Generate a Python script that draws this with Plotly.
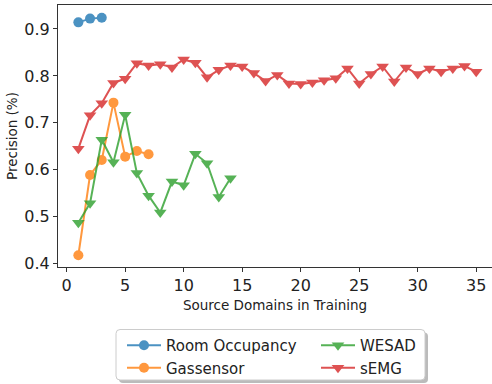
import plotly.graph_objects as go

room_x = [1, 2, 3]
room_y = [0.914, 0.922, 0.924]

gas_x = [1, 2, 3, 4, 5, 6, 7]
gas_y = [0.418, 0.589, 0.621, 0.743, 0.628, 0.640, 0.633]

wesad_x = list(range(1, 15))
wesad_y = [0.487, 0.529, 0.664, 0.616, 0.717, 0.593, 0.545, 0.509, 0.575, 0.567,
           0.634, 0.614, 0.542, 0.582]

semg_x = list(range(1, 36))
semg_y = [0.645, 0.716, 0.742, 0.785, 0.794, 0.827, 0.822, 0.825, 0.818, 0.835,
          0.828, 0.797, 0.813, 0.822, 0.820, 0.806, 0.789, 0.802, 0.784, 0.783,
          0.786, 0.791, 0.795, 0.816, 0.784, 0.804, 0.820, 0.788, 0.818, 0.804,
          0.816, 0.809, 0.816, 0.821, 0.809]

x_ticks = [0, 5, 10, 15, 20, 25, 30, 35]
y_ticks = [0.4, 0.5, 0.6, 0.7, 0.8, 0.9]
y_labels = ["0.4", "0.5", "0.6", "0.7", "0.8", "0.9"]

series = [
    ("Room Occupancy", room_x, room_y, "#1f77b4", "circle", 10, "legend"),
    ("Gassensor", gas_x, gas_y, "#ff7f0e", "circle", 10, "legend"),
    ("WESAD", wesad_x, wesad_y, "#2ca02c", "triangle-down", 11, "legend2"),
    ("sEMG", semg_x, semg_y, "#d62728", "triangle-down", 11, "legend2"),
]

fig = go.Figure()
for name, xs, ys, col, sym, sz, lg in series:
    fig.add_trace(go.Scatter(
        x=xs, y=ys, name=name, mode="lines+markers",
        line=dict(color=col, width=2),
        marker=dict(color=col, symbol=sym, size=sz, line=dict(width=0)),
        opacity=0.8, legend=lg,
    ))

# plot area in px: left 58, right 492, top 5, bottom 267
PL, PR, PT, PB = 58, 492, 5, 267
def px(x):
    return (x - PL) / (PR - PL)
def py(y):
    return (PB - y) / (PB - PT)

def rounded(x0, y0, x1, y1, r=4):
    rx = r / (PR - PL)
    ry = r / (PB - PT)
    X0, X1 = px(x0), px(x1)
    Yt, Yb = py(y0), py(y1)
    return (f"M {X0+rx},{Yt} L {X1-rx},{Yt} Q {X1},{Yt} {X1},{Yt-ry} "
            f"L {X1},{Yb+ry} Q {X1},{Yb} {X1-rx},{Yb} L {X0+rx},{Yb} "
            f"Q {X0},{Yb} {X0},{Yb+ry} L {X0},{Yt-ry} Q {X0},{Yt} {X0+rx},{Yt} Z")

shapes = [
    dict(type="path", xref="paper", yref="paper", path=rounded(119, 332.5, 428, 383),
         fillcolor="rgba(120,120,120,0.5)", line=dict(width=0), layer="above"),
    dict(type="path", xref="paper", yref="paper", path=rounded(116, 329.5, 425, 380),
         fillcolor="white", line=dict(color="#cccccc", width=1), layer="above"),
]

axis_font = dict(family="DejaVu Sans", size=16, color="#222222")
legend_common = dict(
    orientation="v", yanchor="top", xanchor="left",
    font=dict(family="DejaVu Sans", size=15, color="#222222"),
    bgcolor="rgba(0,0,0,0)", borderwidth=0, itemwidth=34,
)
fig.update_layout(
    width=492, height=384,
    margin=dict(l=PL, r=0, t=PT, b=384 - PB),
    plot_bgcolor="white", paper_bgcolor="white",
    font=dict(family="DejaVu Sans", color="#222222"),
    shapes=shapes,
    xaxis=dict(
        range=[-0.74, 36.35], tickvals=x_ticks, showgrid=False, zeroline=False,
        showline=True, linecolor="#333333", linewidth=1.2, mirror=True,
        ticks="outside", ticklen=4, tickcolor="#333333", tickfont=axis_font,
        title=dict(text="Source Domains in Training", font=dict(size=13.5), standoff=6),
    ),
    yaxis=dict(
        range=[0.393, 0.951], tickvals=y_ticks, ticktext=y_labels,
        showgrid=False, zeroline=False,
        showline=True, linecolor="#333333", linewidth=1.2, mirror=False,
        ticks="outside", ticklen=4, tickcolor="#333333", tickfont=axis_font,
        title=dict(text="Precision (%)", font=dict(size=13.5), standoff=3),
    ),
    legend=dict(x=px(122), y=py(329), **legend_common),
    legend2=dict(x=px(316), y=py(329), **legend_common),
)

fig.write_html("out.html")
